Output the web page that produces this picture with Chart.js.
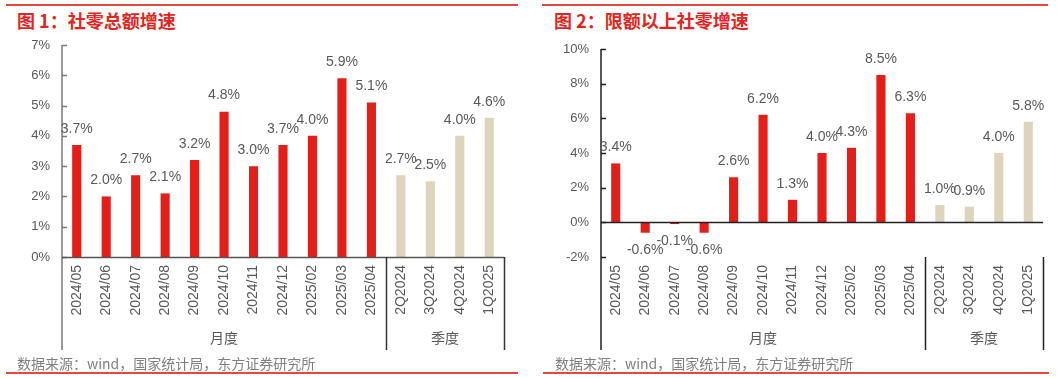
<!DOCTYPE html>
<html>
<head>
  <meta charset="utf-8">
  <title>社零增速</title>
  <script src="https://cdn.jsdelivr.net/npm/chart.js"></script>
  <style>
    body { margin: 0; background: #fff; width: 1061px; height: 378px; overflow: hidden; position: relative;
           font-family: "Liberation Sans", "Noto Sans CJK SC", sans-serif; }
    .line { position: absolute; height: 2px; background: #e8483c; }
    .title { position: absolute; top: 9px; font: 700 18px "Noto Sans CJK SC", sans-serif; color: #e3251f; line-height: 22px; white-space: nowrap; }
    .src { position: absolute; top: 353px; font: 14px "Noto Sans CJK SC", sans-serif; color: #808080; line-height: 20px; white-space: nowrap; }
    canvas { position: absolute; top: 0; }
  </style>
</head>
<body>
  <div class="line" style="left:6px; width:512px; top:4px"></div>
  <div class="line" style="left:542px; width:506px; top:4px"></div>
  <div class="title" style="left:17px">图 1：社零总额增速</div>
  <div class="title" style="left:554px">图 2：限额以上社零增速</div>

  <canvas id="c1" width="530" height="378" style="left:0"></canvas>
  <canvas id="c2" width="531" height="378" style="left:530px"></canvas>

  <div class="src" style="left:17px">数据来源：wind，国家统计局，东方证券研究所</div>
  <div class="src" style="left:555px">数据来源：wind，国家统计局，东方证券研究所</div>
  <div class="line" style="left:6px; width:512px; top:372px"></div>
  <div class="line" style="left:543px; width:506px; top:372px"></div>

  <script>
    const months = ['2024/05', '2024/06', '2024/07', '2024/08', '2024/09', '2024/10', '2024/11', '2024/12', '2025/02', '2025/03', '2025/04'];
    const quarters = ['2Q2024', '3Q2024', '4Q2024', '1Q2025'];
    const groupNames = ['月度', '季度'];

    // 社零总额增速 (%)
    const retailMonthly = [3.7, 2.0, 2.7, 2.1, 3.2, 4.8, 3.0, 3.7, 4.0, 5.9, 5.1];
    const retailQuarterly = [2.7, 2.5, 4.0, 4.6];
    // 限额以上社零增速 (%)
    const aboveMonthly = [3.4, -0.6, -0.1, -0.6, 2.6, 6.2, 1.3, 4.0, 4.3, 8.5, 6.3];
    const aboveQuarterly = [1.0, 0.9, 4.0, 5.8];

    const RED = '#e31f1a';
    const BEIGE = '#ded4bc';
    const TEXT = '#595959';

    // axes, separators, group names and value labels drawn by hand
    const decor = {
      id: 'decor',
      afterDatasetsDraw(chart, args, o) {
        const { ctx, chartArea: a, scales: { x, y } } = chart;
        const bottom = 350;
        ctx.save();
        // y axis line + inside ticks
        ctx.strokeStyle = o.axisColor;
        ctx.lineWidth = 1.5;
        ctx.beginPath();
        ctx.moveTo(a.left, a.top);
        ctx.lineTo(a.left, bottom);
        y.ticks.forEach(t => {
          const py = Math.round(y.getPixelForValue(t.value)) + 0.5;
          ctx.moveTo(a.left, py);
          ctx.lineTo(a.left + 5, py);
        });
        ctx.stroke();
        // zero line
        ctx.strokeStyle = o.zeroColor;
        ctx.beginPath();
        const y0 = Math.round(y.getPixelForValue(0)) + 0.5;
        ctx.moveTo(a.left, y0);
        ctx.lineTo(a.right, y0);
        ctx.stroke();
        // group separators
        const n = months.length;
        const sep = (x.getPixelForValue(n - 1) + x.getPixelForValue(n)) / 2;
        ctx.strokeStyle = o.sepColor;
        ctx.beginPath();
        [sep, a.right].forEach(px => {
          ctx.moveTo(Math.round(px) + 0.5, a.bottom);
          ctx.lineTo(Math.round(px) + 0.5, bottom);
        });
        ctx.stroke();
        // group names
        ctx.fillStyle = TEXT;
        ctx.font = '14px "Noto Sans CJK SC"';
        ctx.textAlign = 'center';
        ctx.textBaseline = 'middle';
        ctx.fillText(groupNames[0], (a.left + sep) / 2, 338);
        ctx.fillText(groupNames[1], (sep + a.right) / 2, 338);
        // value labels
        ctx.font = '14px "Liberation Sans"';
        const meta = chart.getDatasetMeta(0);
        const vals = chart.data.datasets[0].data;
        meta.data.forEach((bar, i) => {
          const v = vals[i];
          const ty = v >= 0 ? bar.y - 16 : bar.y + 17;
          ctx.fillText(v.toFixed(1) + '%', bar.x, ty);
        });
        ctx.restore();
      }
    };

    function makeChart(id, values, yMin, yMax, step, top, left, right, colors) {
      return new Chart(document.getElementById(id), {
        type: 'bar',
        data: {
          labels: months.concat(quarters),
          datasets: [{
            data: values,
            backgroundColor: months.map(() => RED).concat(quarters.map(() => BEIGE)),
            barPercentage: 0.31,
            categoryPercentage: 1
          }]
        },
        options: {
          responsive: false,
          animation: false,
          layout: { padding: { top: top, right: right, left: 0, bottom: 0 } },
          plugins: {
            legend: { display: false },
            tooltip: { enabled: false },
            decor: colors
          },
          scales: {
            x: {
              grid: { display: false, drawTicks: false },
              border: { display: false },
              ticks: {
                color: TEXT, font: { family: 'Liberation Sans', size: 14 },
                maxRotation: 90, minRotation: 90, padding: 8, autoSkip: false
              },
              afterFit(s) { s.height = 121; }
            },
            y: {
              min: yMin, max: yMax,
              grid: { display: false, drawTicks: false },
              border: { display: false },
              ticks: {
                stepSize: step, color: TEXT, padding: 12,
                font: { family: 'Liberation Sans', size: 13 },
                callback: v => v + '%'
              },
              afterFit(s) { s.width = left; }
            }
          }
        },
        plugins: [decor]
      });
    }

    makeChart('c1', retailMonthly.concat(retailQuarterly), 0, 7, 1, 45, 62, 26,
      { axisColor: '#7a7a7a', zeroColor: '#555555', sepColor: '#333333' });
    makeChart('c2', aboveMonthly.concat(aboveQuarterly), -2, 10, 2, 49, 71, 18,
      { axisColor: '#222222', zeroColor: '#222222', sepColor: '#222222' });
  </script>
</body>
</html>
